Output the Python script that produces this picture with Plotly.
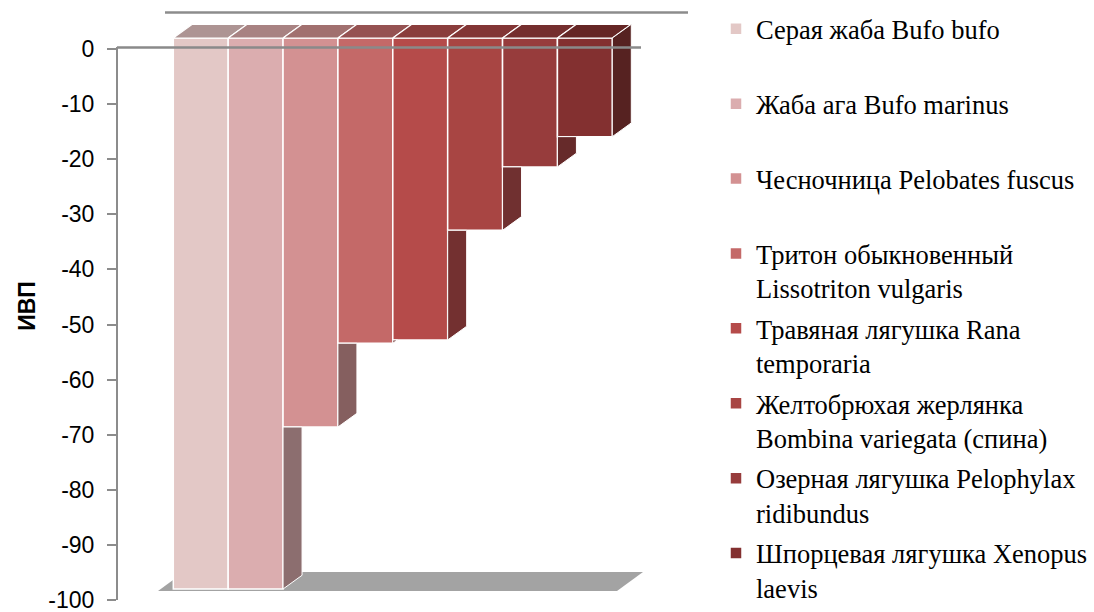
import plotly.graph_objects as go

# ---------------- data ----------------
species = [
    "Серая жаба Bufo bufo<br> ",
    "Жаба ага Bufo marinus<br> ",
    "Чесночница Pelobates fuscus<br> ",
    "Тритон обыкновенный<br>Lissotriton vulgaris",
    "Травяная лягушка Rana<br>temporaria",
    "Желтобрюхая жерлянка<br>Bombina variegata (спина)",
    "Озерная лягушка Pelophylax<br>ridibundus",
    "Шпорцевая лягушка Xenopus<br>laevis",
]
ivp = [-100, -100, -70.6, -55.4, -54.8, -34.9, -23.4, -17.9]
y_ticks = [0, -10, -20, -30, -40, -50, -60, -70, -80, -90, -100]

# ---------------- styles ----------------
front_colors = ["#e3c8c6", "#dbadaf", "#d39192", "#c46968",
                "#b54b4a", "#a84543", "#973c3c", "#833030"]
top_colors = ["#ad9493", "#a88282", "#a1706f", "#955252",
              "#8a3d3c", "#823535", "#742e2e", "#652625"]
side_colors = ["#8c6f6f", "#8c6e6f", "#855f5f", "#7a4444",
               "#733030", "#703030", "#662a2a", "#562221"]

W, H = 1094, 612
PL, PR = 117, 700          # plot area in px
PT, PB = 0, 612
XU = 54.875                # px per category slot
X0 = -0.5 - (173.3 - PL) / XU
X1 = X0 + (PR - PL) / XU
YU = 5.51                  # px per value unit
SHIFT = 11 / YU            # 3-D: axis labels sit 11 px lower than the bar front faces
YMAX = (38 - PT) / YU      # value 0 of the bar front faces at y = 38 px
YMIN = YMAX - (PB - PT) / YU
DXU = 19 / XU              # depth offset in x units
DYU = 13.7 / YU            # depth offset in y units


def px2paper(px, py):
    return (px - PL) / (PR - PL), 1 - (py - PT) / (PB - PT)


fig = go.Figure()

# front faces (real bars)
for i, (name, v) in enumerate(zip(species, ivp)):
    fig.add_trace(go.Bar(
        x=[i], y=[v], width=1, name=name,
        marker=dict(color=front_colors[i], line=dict(color="white", width=1.5)),
        legendgroup=f"g{i}", hoverinfo="y",
    ))

# 3-D top and side faces computed from the data
for i, v in enumerate(ivp):
    xl, xr = i - 0.5, i + 0.5
    fig.add_trace(go.Scatter(
        x=[xl, xr, xr + DXU, xl + DXU, xl], y=[0, 0, DYU, DYU, 0],
        fill="toself", fillcolor=top_colors[i], mode="lines",
        line=dict(color="white", width=1.2), showlegend=False, hoverinfo="skip",
    ))
    if i == len(ivp) - 1:
        sx = [xr, xr + DXU, xr + DXU, xr, xr]
        sy = [0, DYU, v + DYU, v, 0]
    else:
        nxt = ivp[i + 1]
        if nxt <= v:
            continue
        if nxt >= v + DYU:
            sx = [xr, xr + DXU, xr + DXU, xr, xr]
            sy = [nxt, nxt, v + DYU, v, nxt]
        else:
            sx = [xr, xr + DXU * (nxt - v) / DYU, xr, xr]
            sy = [nxt, nxt, v, nxt]
    fig.add_trace(go.Scatter(
        x=sx, y=sy, fill="toself", fillcolor=side_colors[i], mode="lines",
        line=dict(color="white", width=1.0), showlegend=False, hoverinfo="skip",
    ))

shapes = []
# floor
fl = [px2paper(158, 591), px2paper(617, 591), px2paper(643, 572), px2paper(184, 572)]
path = "M " + " L ".join(f"{a},{b}" for a, b in fl) + " Z"
shapes.append(dict(type="path", path=path, xref="paper", yref="paper",
                   fillcolor="#a3a3a3", line=dict(width=0), layer="below"))
# back wall top edge
a = px2paper(165, 12.5); b = px2paper(688, 12.5)
shapes.append(dict(type="line", xref="paper", yref="paper", x0=a[0], y0=a[1], x1=b[0], y1=b[1],
                   line=dict(color="#8c8c8c", width=2.5), layer="below"))
# zero line (front)
a = px2paper(117, 47.5); b = px2paper(641, 47.5)
shapes.append(dict(type="line", xref="paper", yref="paper", x0=a[0], y0=a[1], x1=b[0], y1=b[1],
                   line=dict(color="#8a8a8a", width=2.5), layer="above"))
# value axis line
a = px2paper(117, 47); b = px2paper(117, 600)
shapes.append(dict(type="line", xref="paper", yref="paper", x0=a[0], y0=a[1], x1=b[0], y1=b[1],
                   line=dict(color="#8c8c8c", width=2), layer="above"))

fig.update_layout(
    width=W, height=H,
    margin=dict(l=PL, r=W - PR, t=PT, b=H - PB, pad=0),
    paper_bgcolor="white", plot_bgcolor="white",
    barmode="overlay",
    showlegend=True,
    xaxis=dict(range=[X0, X1], visible=False, fixedrange=True),
    yaxis=dict(
        range=[YMIN, YMAX],
        tickvals=[t - SHIFT for t in y_ticks], ticktext=[str(t) for t in y_ticks],
        ticks="outside", ticklen=9, tickwidth=2, tickcolor="#8c8c8c",
        ticklabelstandoff=8, ticklabeloverflow="allow",
        showgrid=False, zeroline=False, showline=False,
        tickfont=dict(family="Liberation Sans, Arial, sans-serif", size=23, color="black"),
        title=dict(text="ИВП", standoff=6,
                   font=dict(family="Liberation Sans, Arial, sans-serif", size=23,
                             color="black", weight="bold")),
    ),
    legend=dict(
        xref="container", yref="container", x=716 / W, y=1 - 5 / H,
        xanchor="left", yanchor="top", maxheight=612,
        font=dict(family="Liberation Serif, Times New Roman, serif", size=26.5, color="black"),
        valign="top", tracegroupgap=3, itemwidth=30, bgcolor="rgba(0,0,0,0)",
    ),
    shapes=shapes,
)

fig.write_html("out.html")
